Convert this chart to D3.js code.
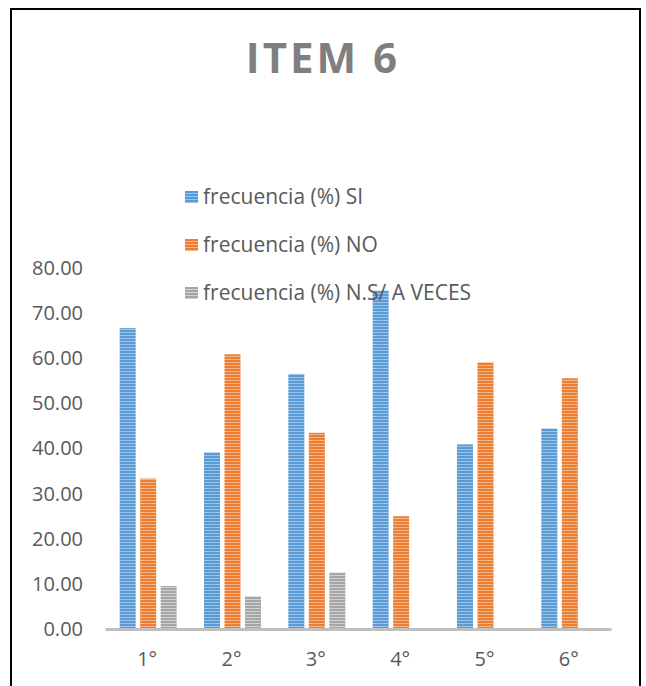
<!DOCTYPE html>
<html>
<head>
<meta charset="utf-8">
<script src="https://cdn.jsdelivr.net/npm/d3@7"></script>
<style>
  body { margin: 0; background: #fff; }
  text { font-family: "Open Sans", "Noto Sans", sans-serif; }
</style>
</head>
<body>
<div id="chart"></div>
<script>
(function(d3) {
    'use strict';

    // Data
    var categories = ['1°', '2°', '3°', '4°', '5°', '6°'];
    var seriesNames = ['frecuencia (%) SI', 'frecuencia (%) NO', 'frecuencia (%) N.S/ A VECES'];
    var valuesSI = [66.67, 39.13, 56.52, 75.00, 40.91, 44.44];
    var valuesNO = [33.33, 60.87, 43.48, 25.00, 59.09, 55.56];
    var valuesNS = [9.52, 7.25, 12.50, 0, 0, 0];
    var yTicks = [0, 10, 20, 30, 40, 50, 60, 70, 80];

    var series = [valuesSI, valuesNO, valuesNS];
    var colors = ['#5b9bd5', '#ed7d31', '#a5a5a5'];
    var stripes = ['#9cc3e8', '#f6b48a', '#d2d2d2'];

    var width = 646;
    var height = 686;
    var plotLeft = 105, plotRight = 611, plotTop = 268, plotBottom = 629;

    var svg = d3.select('#chart')
        .append('svg')
        .attr('width', width)
        .attr('height', height);

    // striped fill like the original bars
    var defs = svg.append('defs');
    colors.forEach(function(c, i) {
        var p = defs.append('pattern')
            .attr('id', 'stripe' + i)
            .attr('patternUnits', 'userSpaceOnUse')
            .attr('width', 6)
            .attr('height', 3);
        p.append('rect').attr('width', 6).attr('height', 3).attr('fill', c);
        p.append('rect').attr('y', 2).attr('width', 6).attr('height', 1).attr('fill', stripes[i]);
    });

    // outer frame
    svg.append('rect')
        .attr('x', 11)
        .attr('y', 9)
        .attr('width', 629)
        .attr('height', 690)
        .attr('fill', 'none')
        .attr('stroke', '#000')
        .attr('stroke-width', 2);

    // title
    svg.append('text')
        .attr('x', 323)
        .attr('y', 73)
        .attr('text-anchor', 'middle')
        .attr('font-size', 42)
        .attr('font-weight', 'bold')
        .attr('letter-spacing', 3)
        .attr('fill', '#7f7f7f')
        .text('ITEM 6');

    var x = d3.scaleBand()
        .domain(categories)
        .range([plotLeft, plotRight]);

    var y = d3.scaleLinear()
        .domain([0, 80])
        .range([plotBottom, plotTop]);

    var barW = 16, barGap = 4.5;

    // y axis labels (no line)
    var yAxis = d3.axisLeft(y)
        .tickValues(yTicks)
        .tickFormat(d3.format('.2f'))
        .tickSize(0)
        .tickPadding(0);

    var gy = svg.append('g')
        .attr('transform', 'translate(83,0)')
        .call(yAxis);
    gy.select('.domain').remove();
    gy.selectAll('text')
        .attr('font-family', '"Open Sans", sans-serif')
        .attr('font-size', 20)
        .attr('fill', '#595959');

    // bars
    series.forEach(function(vals, s) {
        svg.append('g')
            .selectAll('rect')
            .data(vals)
            .enter()
            .append('rect')
            .attr('x', function(d, i) {
                return x(categories[i]) + x.bandwidth() / 2 + (s - 1) * (barW + barGap) - barW / 2 + 1;
            })
            .attr('y', function(d) { return y(d); })
            .attr('width', barW)
            .attr('height', function(d) { return y(0) - y(d); })
            .attr('fill', 'url(#stripe' + s + ')');
    });

    // x axis
    var xAxis = d3.axisBottom(x)
        .tickSize(0)
        .tickPadding(23);

    var gx = svg.append('g')
        .attr('transform', 'translate(0,' + plotBottom + ')')
        .call(xAxis);
    gx.select('.domain')
        .attr('stroke', '#bfbfbf')
        .attr('stroke-width', 3);
    gx.selectAll('text')
        .attr('font-family', '"Open Sans", sans-serif')
        .attr('font-size', 20)
        .attr('fill', '#595959');

    // legend
    var legend = svg.selectAll('.legend')
        .data(seriesNames)
        .enter()
        .append('g')
        .attr('class', 'legend')
        .attr('transform', function(d, i) {
            return 'translate(185,' + (197 + i * 48) + ')';
        });

    legend.append('rect')
        .attr('x', 0)
        .attr('y', -6)
        .attr('width', 13)
        .attr('height', 12)
        .attr('fill', function(d, i) { return 'url(#stripe' + i + ')'; });

    legend.append('text')
        .attr('x', 18)
        .attr('y', 7)
        .attr('font-size', 21)
        .attr('fill', '#595959')
        .text(function(d) { return d; });

})(window.d3);
</script>
</body>
</html>
